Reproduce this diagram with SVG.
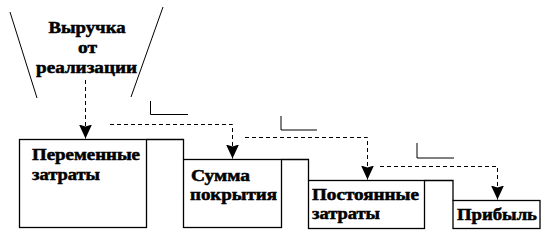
<svg xmlns="http://www.w3.org/2000/svg" width="553" height="239" viewBox="0 0 553 239">
<defs>
<style>
.box{fill:none;stroke:#000;stroke-width:1.3}
.ln{fill:none;stroke:#000;stroke-width:1}
.dash{fill:none;stroke:#000;stroke-width:1;stroke-dasharray:4 3}
.t{font-family:"Liberation Serif","DejaVu Serif",serif;font-weight:bold;font-size:16px;fill:#000;stroke:#000;stroke-width:0.5}
.c{text-anchor:middle}
</style>
<marker id="ah" markerWidth="14" markerHeight="13" refX="14" refY="6.5" orient="auto" markerUnits="userSpaceOnUse" viewBox="0 0 14 13">
<path d="M0,0 L2,6.5 L0,13 L14,6.5 Z" fill="#000"/>
</marker>
</defs>
<rect width="553" height="239" fill="#fff"/>
<g id="funnel">
<line class="ln" x1="10" y1="12" x2="37" y2="98"/>
<line class="ln" x1="163" y1="7" x2="131" y2="97"/>
<text class="t c" x="87" y="33" textLength="77" lengthAdjust="spacingAndGlyphs">Выручка</text>
<text class="t c" x="87.5" y="53" textLength="19" lengthAdjust="spacingAndGlyphs">от</text>
<text class="t c" x="86.5" y="73" textLength="101" lengthAdjust="spacingAndGlyphs">реализации</text>
</g>
<g id="n1">
<rect class="box" x="19.5" y="139.5" width="127" height="88"/>
<text class="t" x="32" y="160" textLength="108" lengthAdjust="spacingAndGlyphs">Переменные</text>
<text class="t" x="32" y="180" textLength="68" lengthAdjust="spacingAndGlyphs">затраты</text>
</g>
<g id="n2">
<polyline class="box" points="146.5,139.5 183.5,139.5 183.5,159.5"/>
<rect class="box" x="183.5" y="159.5" width="98" height="68"/>
<text class="t" x="191" y="181" textLength="59" lengthAdjust="spacingAndGlyphs">Сумма</text>
<text class="t" x="190" y="200" textLength="87" lengthAdjust="spacingAndGlyphs">покрытия</text>
</g>
<g id="n3">
<polyline class="box" points="281.5,159.5 308.5,159.5 308.5,180.5"/>
<rect class="box" x="308.5" y="180.5" width="116" height="48"/>
<text class="t" x="312" y="200" textLength="107" lengthAdjust="spacingAndGlyphs">Постоянные</text>
<text class="t" x="312" y="219" textLength="68" lengthAdjust="spacingAndGlyphs">затраты</text>
</g>
<g id="n4">
<polyline class="box" points="424.5,180.5 453,180.5 453,200.5"/>
<rect class="box" x="453" y="200.5" width="87" height="28"/>
<text class="t" x="457" y="219.5" textLength="80" lengthAdjust="spacingAndGlyphs">Прибыль</text>
</g>
<g id="brackets">
<polyline class="ln" points="150.5,101 150.5,114.5 188,114.5"/>
<polyline class="ln" points="281,116 281,130 317,130"/>
<polyline class="ln" points="417,143 417,158 454,158"/>
</g>
<g id="connectors">
<polyline class="dash" points="85.5,80 85.5,138.5" marker-end="url(#ah)"/>
<polyline class="dash" points="110,124.5 232.5,124.5 232.5,158.5" marker-end="url(#ah)"/>
<polyline class="dash" points="245,137.5 367.5,137.5 367.5,179.5" marker-end="url(#ah)"/>
<polyline class="dash" points="380,166.5 497.5,166.5 497.5,199.5" marker-end="url(#ah)"/>
</g>
</svg>
